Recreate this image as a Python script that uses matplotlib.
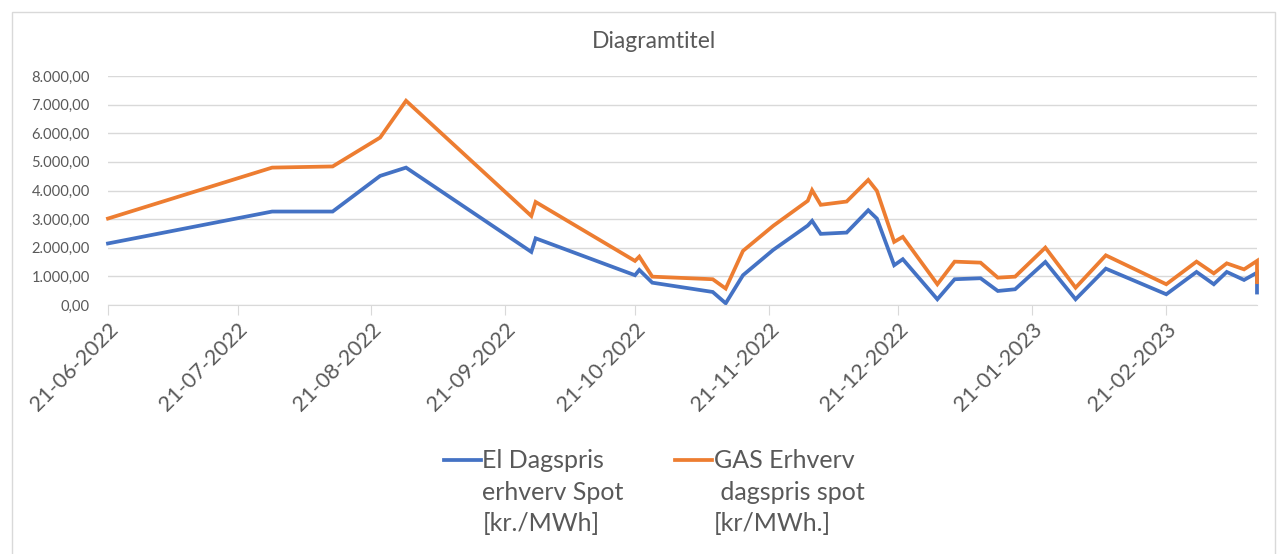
import matplotlib
matplotlib.use("Agg")
import matplotlib.pyplot as plt
import matplotlib.dates as mdates
import pandas as pd
import numpy as np
from matplotlib.legend_handler import HandlerLine2D
from matplotlib.patches import Rectangle

plt.rcParams['font.family'] = ['Lato', 'DejaVu Sans']

datoer = [
    "2022-06-21", "2022-07-29", "2022-08-12", "2022-08-23", "2022-08-29",
    "2022-09-27", "2022-09-28", "2022-10-21", "2022-10-22", "2022-10-25",
    "2022-11-08", "2022-11-11", "2022-11-15", "2022-11-22", "2022-11-30",
    "2022-12-01", "2022-12-03", "2022-12-09", "2022-12-14", "2022-12-16",
    "2022-12-20", "2022-12-22", "2022-12-30", "2023-01-03", "2023-01-09",
    "2023-01-13", "2023-01-17", "2023-01-24", "2023-01-31", "2023-02-07",
    "2023-02-21", "2023-02-28", "2023-03-04", "2023-03-07", "2023-03-11",
    "2023-03-14", "2023-03-14",
]
el_pris = [
    2150, 3265, 3265, 4510, 4800, 1855, 2330, 1040, 1225, 780,
    455, 60, 1040, 1925, 2775, 2940, 2485, 2530, 3310, 3020,
    1390, 1600, 200, 900, 935, 490, 550, 1505, 200, 1270,
    375, 1155, 725, 1155, 875, 1130, 435,
]
gas_pris = [
    3020, 4800, 4840, 5850, 7135, 3110, 3600, 1540, 1690, 990,
    900, 575, 1890, 2765, 3640, 4010, 3500, 3615, 4370, 3990,
    2205, 2380, 725, 1515, 1480, 955, 990, 2005, 605, 1735,
    725, 1515, 1105, 1455, 1245, 1540, 800,
]
el_label = "El Dagspris\nerhverv Spot\n[kr./MWh]"
gas_label = "GAS Erhverv\n dagspris spot\n[kr/MWh.]"

datoer = pd.to_datetime(datoer)
tekst = "#595959"
grid = "#d9d9d9"


class TopLine(HandlerLine2D):
    # legend-streg ud for foerste linje, som i Excel
    def create_artists(self, legend, orig_handle, xdescent, ydescent,
                       width, height, fontsize, trans):
        arts = super().create_artists(legend, orig_handle, xdescent, ydescent,
                                      width, height, fontsize, trans)
        for a in arts:
            a.set_ydata(np.array(a.get_ydata()) + fontsize * 1.3)
        return arts


fig = plt.figure(figsize=(12.88, 5.54), dpi=100)
ax = fig.add_axes([108 / 1288, 1 - 305 / 554, (1257 - 108) / 1288, (305 - 76) / 554])

ax.plot(datoer, el_pris, color="#4472C4", lw=2.7, label=el_label, clip_on=False,
        solid_joinstyle="miter")
ax.plot(datoer, gas_pris, color="#ED7D31", lw=2.7, label=gas_label, clip_on=False,
        solid_joinstyle="miter")

ax.set_xlim(datoer[0], datoer[-1])
ax.set_ylim(0, 8000)
ax.set_yticks(range(0, 8001, 1000))
ax.yaxis.set_major_formatter(plt.FuncFormatter(
    lambda v, p: f"{v:,.2f}".replace(",", "X").replace(".", ",").replace("X", ".")))
ax.xaxis.set_major_locator(mdates.DayLocator(bymonthday=21))
ax.xaxis.set_major_formatter(mdates.DateFormatter("%d-%m-%Y"))

ax.grid(axis="y", color=grid, lw=1)
ax.set_axisbelow(True)
for s in ["top", "right", "left"]:
    ax.spines[s].set_visible(False)
ax.spines["bottom"].set_color(grid)
ax.tick_params(axis="y", length=0, labelsize=10.6, labelcolor=tekst, pad=13)
ax.tick_params(axis="x", length=7, color=grid, labelsize=15.5, labelcolor=tekst,
               rotation=45, pad=3)
for t in ax.get_xticklabels():
    t.set_ha("right")
    t.set_rotation_mode("anchor")

fig.text(654 / 1288, 1 - 42 / 554, "Diagramtitel", ha="center", va="center",
         fontsize=16.5, color=tekst)

leg = fig.legend(loc="center", bbox_to_anchor=(654 / 1288, 1 - 492 / 554),
                 ncol=2, frameon=False, fontsize=18, handlelength=1.5,
                 handletextpad=0.05, columnspacing=2.05,
                 handler_map={plt.Line2D: TopLine()})
for t in leg.get_texts():
    t.set_color(tekst)
    t.set_linespacing(1.45)

fig.patches.append(Rectangle((12 / 1288, -0.01), (1275 - 12) / 1288, 1 - 12 / 554 + 0.01,
                             transform=fig.transFigure, fill=False, ec=grid, lw=1))

fig.savefig("out.png", dpi=100)
